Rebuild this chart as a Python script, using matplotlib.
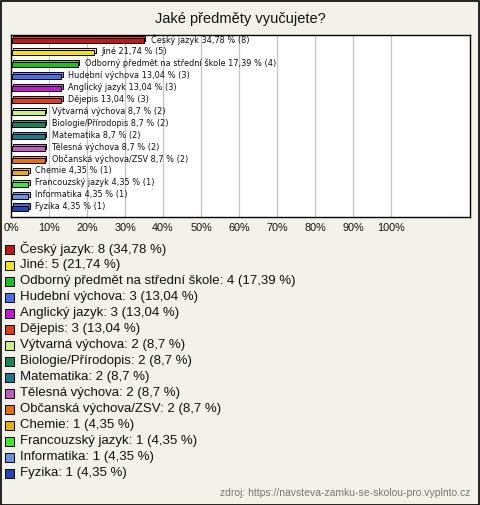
import matplotlib.pyplot as plt
import matplotlib.patches as mpatches
from matplotlib.colors import to_rgb
import numpy as np

# data
subjects = ["Český jazyk", "Jiné", "Odborný předmět na střední škole", "Hudební výchova",
            "Anglický jazyk", "Dějepis", "Výtvarná výchova", "Biologie/Přírodopis",
            "Matematika", "Tělesná výchova", "Občanská výchova/ZSV", "Chemie",
            "Francouzský jazyk", "Informatika", "Fyzika"]
counts = [8, 5, 4, 3, 3, 3, 2, 2, 2, 2, 2, 1, 1, 1, 1]
percents = [34.78, 21.74, 17.39, 13.04, 13.04, 13.04, 8.7, 8.7, 8.7, 8.7, 8.7, 4.35, 4.35, 4.35, 4.35]
colors = ["#c4170f", "#f2e214", "#1cc21c", "#4472e6", "#c41acb", "#e03e12", "#c8f27a",
          "#12885a", "#1c7a90", "#c25ac2", "#e2720a", "#e8b004", "#44e234", "#6a92e2", "#2444b2"]
xticks = [0, 10, 20, 30, 40, 50, 60, 70, 80, 90, 100]

title = "Jaké předměty vyučujete?"
source = "zdroj: https://navsteva-zamku-se-skolou-pro.vyplnto.cz"

def fmt(v):
    return ("%g" % v).replace(".", ",")

W, H = 480, 505
bg = "#f3f2ea"
fig = plt.figure(figsize=(W / 100, H / 100), dpi=100, facecolor=bg)
plt.rcParams['font.family'] = ['Liberation Sans', 'DejaVu Sans']

# outer border
fig.patches.append(mpatches.Rectangle((0.5 / W, 0.5 / H), 1 - 1.5 / W, 1 - 1.5 / H,
                                      transform=fig.transFigure, fill=False,
                                      edgecolor="black", linewidth=1.2))

fig.text(240 / W, 1 - 19 / H, title, ha="center", va="center", fontsize=10.5, color="#111111")

ax = fig.add_axes([11 / W, 1 - 217 / H, 459 / W, 182 / H])
ax.set_facecolor("white")
ax.set_xlim(0, 120.8)
ax.set_ylim(14.75, -0.48)

y = np.arange(len(subjects))
vals = np.array(percents)
light = [tuple(1 - (1 - c) * 0.8 for c in to_rgb(col)) for col in colors]

# 3D-ish bars: back face offset up/right, then front face
ax.barh(y - 0.17, vals, left=0.6, height=0.42, color=light, edgecolor="black", linewidth=0.7, zorder=3)
ax.barh(y, vals, left=0.15, height=0.42, color=colors, edgecolor="black", linewidth=0.7, zorder=4)

for i in range(len(subjects)):
    ax.text(vals[i] + 2.0, y[i] - 0.1, "%s %s %% (%d)" % (subjects[i], fmt(percents[i]), counts[i]),
            va="center", ha="left", fontsize=5.85, family="DejaVu Sans", color="#111111", zorder=5)

ax.set_xticks(xticks)
ax.set_xticklabels(["%d%%" % t for t in xticks], fontsize=7.8, color="#111111")
ax.set_yticks([])
ax.tick_params(axis="x", length=0, pad=4)
ax.grid(axis="x", color="#c4c4c4", linewidth=0.9, zorder=0)
for s in ax.spines.values():
    s.set_linewidth(1.0)
    s.set_color("black")

# legend
for i in range(len(subjects)):
    yc = 249 + 16.0 * i
    fig.patches.append(mpatches.Rectangle((5 / W, 1 - (yc + 4.5) / H), 9 / W, 9 / H,
                                          transform=fig.transFigure, facecolor=colors[i],
                                          edgecolor="black", linewidth=0.7))
    fig.text(20 / W, 1 - yc / H, "%s: %d (%s %%)" % (subjects[i], counts[i], fmt(percents[i])),
             ha="left", va="center", fontsize=9.5, color="#111111")

fig.text(470 / W, 1 - 493 / H, source, ha="right", va="center", fontsize=7.5, color="#777777")

fig.savefig("out.png", dpi=100, facecolor=bg)
